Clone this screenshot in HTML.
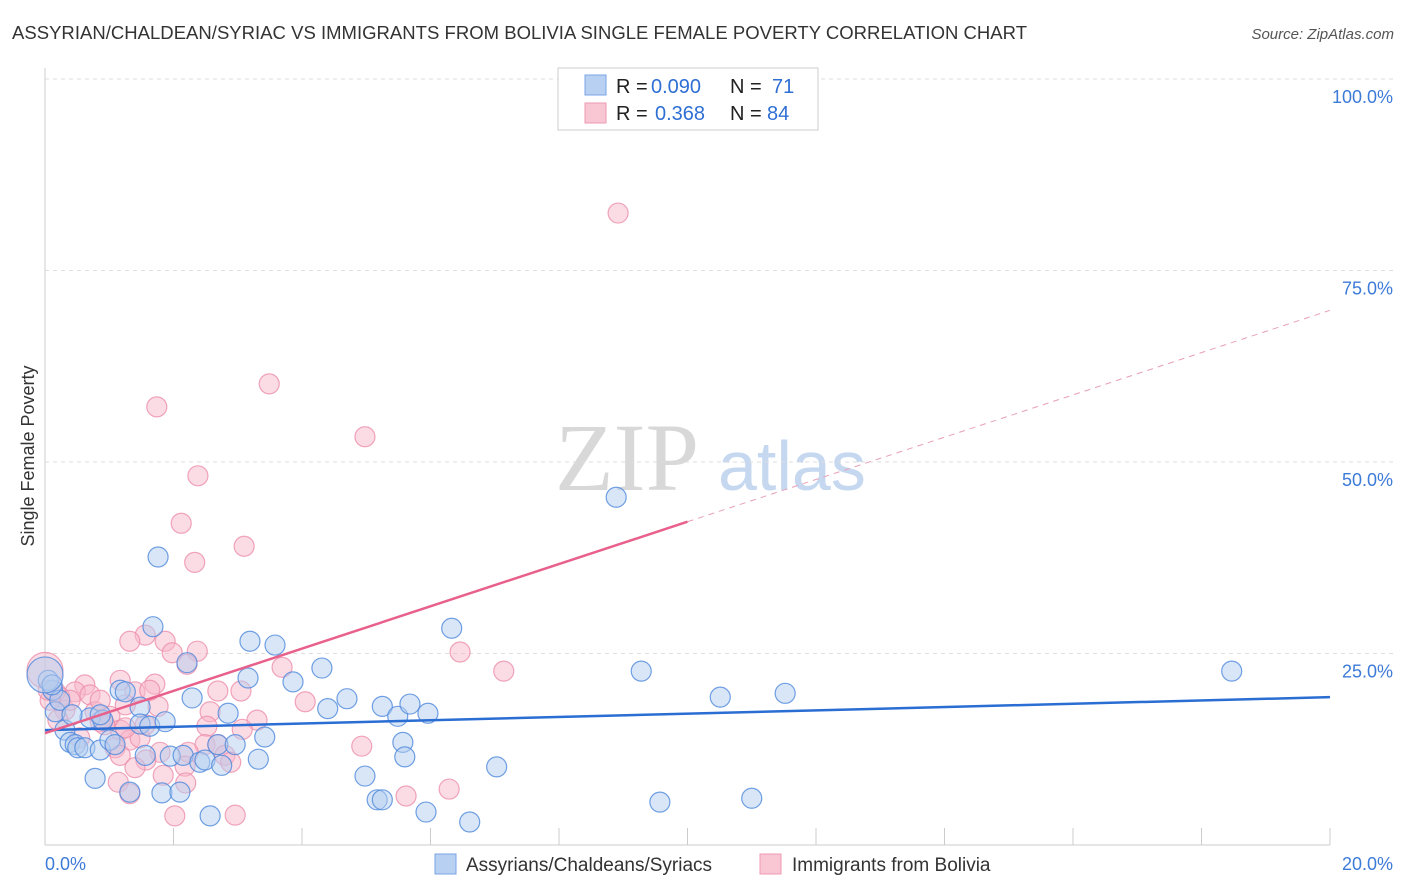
<!DOCTYPE html>
<html><head><meta charset="utf-8"><style>
body{margin:0;background:#fff;font-family:"Liberation Sans",sans-serif;}
#wrap{position:relative;width:1406px;height:892px;overflow:hidden;}
</style></head><body>
<div id="wrap">
<svg id="svg" width="1406" height="892" xmlns="http://www.w3.org/2000/svg">
<text x="12" y="39" font-size="18.5" fill="#333" textLength="1015">ASSYRIAN/CHALDEAN/SYRIAC VS IMMIGRANTS FROM BOLIVIA SINGLE FEMALE POVERTY CORRELATION CHART</text>
<text x="1394" y="39" font-size="15" fill="#555" font-style="italic" text-anchor="end">Source: ZipAtlas.com</text>
<text x="34" y="456" font-size="18" fill="#333" text-anchor="middle" transform="rotate(-90 34 456)">Single Female Poverty</text>
<text x="555" y="490" font-size="96" fill="#d8d8d8" font-family="Liberation Serif,serif">ZIP</text>
<text x="718" y="490" font-size="70" fill="#c5d8f0">atlas</text>
<g id="grid"></g><g id="pts"></g><g id="lines"></g>
<g>
<rect x="558" y="68" width="260" height="62" fill="#fff" stroke="#ccc"/>
<rect x="585" y="75" width="21" height="20" fill="#b8d0f2" stroke="#7aa6e4"/>
<rect x="585" y="103" width="21" height="20" fill="#f9c6d4" stroke="#ee9ab2"/>
<text x="616" y="93" font-size="20" fill="#222">R =</text>
<text x="651" y="93" font-size="20" fill="#2f6fd4">0.090</text>
<text x="730" y="93" font-size="20" fill="#222">N =</text>
<text x="772" y="93" font-size="20" fill="#2f6fd4">71</text>
<text x="616" y="120" font-size="20" fill="#222">R =</text>
<text x="655" y="120" font-size="20" fill="#2f6fd4">0.368</text>
<text x="730" y="120" font-size="20" fill="#222">N =</text>
<text x="767" y="120" font-size="20" fill="#2f6fd4">84</text>
</g>
<g>
<rect x="435" y="854" width="21" height="20" fill="#b8d0f2" stroke="#7aa6e4"/>
<text x="466" y="871" font-size="19" fill="#333">Assyrians/Chaldeans/Syriacs</text>
<rect x="760" y="854" width="21" height="20" fill="#f9c6d4" stroke="#ee9ab2"/>
<text x="792" y="871" font-size="19" fill="#333">Immigrants from Bolivia</text>
</g>
<text x="45" y="870" font-size="18" fill="#3d7bd8">0.0%</text>
<text x="1393" y="870" font-size="18" fill="#3d7bd8" text-anchor="end">20.0%</text>
</svg></div>
<script>
const xTicks=[0,2,4,6,8,10,12,14,16,18,20];
const yTicks=[25,50,75,100];
const yTickLabels=["25.0%","50.0%","75.0%","100.0%"];
const blueX=[0.12,0.16,0.23,0.31,0.39,0.47,0.51,0.62,0.70,0.78,0.86,0.90,1.01,1.09,1.17,1.25,1.32,1.48,1.48,1.56,1.63,1.68,1.76,1.82,1.87,1.95,2.10,2.15,2.21,2.29,2.41,2.49,2.57,2.69,2.75,2.85,2.96,3.16,3.19,3.32,3.42,3.58,3.86,4.31,4.40,4.70,4.98,5.17,5.25,5.25,5.49,5.57,5.60,5.68,5.93,5.96,6.33,6.61,7.03,8.89,9.28,9.57,10.51,11.00,11.52,18.47,0.05,0.11,0.42,0.86,0];
const blueY=[20.2,17.4,18.9,15.0,13.4,13.1,12.7,12.7,16.6,8.7,12.4,16.3,13.7,13.1,20.2,20.0,6.9,18.0,15.8,11.7,15.5,28.5,37.6,6.8,16.1,11.6,6.9,11.7,23.8,19.2,10.8,11.1,3.8,13.1,10.4,17.2,13.1,21.8,26.6,11.2,14.1,26.1,21.3,23.1,17.8,19.1,9.0,5.9,5.9,18.1,16.8,13.4,11.5,18.4,4.3,17.2,28.3,3.0,10.2,45.4,22.7,5.6,19.3,6.1,19.8,22.7,21.5,20.9,17.0,17.0,22.2];
const pinkX=[8.92,3.49,1.74,4.98,2.38,2.12,3.10,2.33,1.56,1.32,1.87,1.98,2.37,2.21,3.69,6.46,7.14,1.17,1.71,0.62,2.69,3.05,1.40,0.47,0.23,0.70,1.76,4.05,2.57,0.31,0.78,1.01,1.25,3.30,2.52,3.07,1.17,0.86,1.32,1.48,0.54,2.49,2.69,1.09,1.79,2.23,2.80,1.57,1.17,4.93,2.18,2.89,1.40,1.84,1.14,2.19,5.62,6.29,1.32,2.02,2.96,0.08,0.16,0.39,0.86,1.63,0,0.05,0.20,0.93,1.25,1.56];
const pinkY=[82.5,60.2,57.2,53.3,48.2,42.0,39.0,36.9,27.4,26.6,26.6,25.1,25.3,23.6,23.2,25.2,22.7,21.5,21.0,20.9,20.1,20.1,20.0,20.0,19.3,19.6,18.1,18.7,17.4,17.6,17.4,16.8,18.3,16.3,15.5,15.1,15.0,16.1,13.7,14.0,14.0,13.1,13.1,12.7,12.1,12.1,11.7,11.1,11.7,12.9,10.3,10.8,10.1,9.1,8.2,8.1,6.4,7.3,6.7,3.8,3.9,18.9,20.0,18.9,18.9,20.2,22.8,20.2,16.3,15.7,15.3,15.7];
const blueTrend=[15.0,19.3];
const pinkTrend=[14.6,69.8];
const pinkSolidEnd=10;
const NS="http://www.w3.org/2000/svg";
const X=v=>45+v*64.25, Y=v=>845-v*7.66;
function mk(t,a,p){const e=document.createElementNS(NS,t);for(const k in a)e.setAttribute(k,a[k]);p.appendChild(e);return e;}
const grid=document.getElementById('grid'),pts=document.getElementById('pts'),lines=document.getElementById('lines'),svg=document.getElementById('svg');
const ax=mk('line',{x1:45,y1:68,x2:45,y2:845,stroke:'#ccc'},grid);


const bx=mk('line',{x1:45,y1:845,x2:1330,y2:845,stroke:'#ccc'},grid);


xTicks.forEach(t=>{const l=mk('line',{x1:X(t),y1:828,x2:X(t),y2:845,stroke:'#ccc'},grid);

});
yTicks.forEach((t,i)=>{const l=mk('line',{x1:45,y1:Y(t),x2:1393,y2:Y(t),stroke:'#ddd','stroke-dasharray':'4,4'},grid);


const tx=mk('text',{x:1393,y:Y(t)+24,'font-size':18,fill:'#3d7bd8','text-anchor':'end'},grid);tx.textContent=yTickLabels[i];

});
function dots(xs,ys,fill,stroke,name){xs.forEach((x,i)=>{const r=(x===0)?18:10;const c=mk('circle',{cx:X(x),cy:Y(ys[i]),r:r,fill:fill,'fill-opacity':0.5,stroke:stroke,'stroke-opacity':0.8,'stroke-width':1.2},pts);

});}
dots(pinkX,pinkY,'#f7b8ca','#ec8fab','bolivia-point');
dots(blueX,blueY,'#b3cdf0','#4d88dc','assyrian-point');
const bl=mk('line',{x1:X(0),y1:Y(blueTrend[0]),x2:X(20),y2:Y(blueTrend[1]),stroke:'#2a6dd3','stroke-width':2.5},lines);


const pe=pinkTrend[0]+(pinkTrend[1]-pinkTrend[0])*pinkSolidEnd/20;
const pl=mk('line',{x1:X(0),y1:Y(pinkTrend[0]),x2:X(pinkSolidEnd),y2:Y(pe),stroke:'#e8618c','stroke-width':2.5},lines);


const pd=mk('line',{x1:X(pinkSolidEnd),y1:Y(pe),x2:X(20),y2:Y(pinkTrend[1]),stroke:'#e8a0b6','stroke-width':1,'stroke-dasharray':'6,5'},lines);


</script>
</body></html>
